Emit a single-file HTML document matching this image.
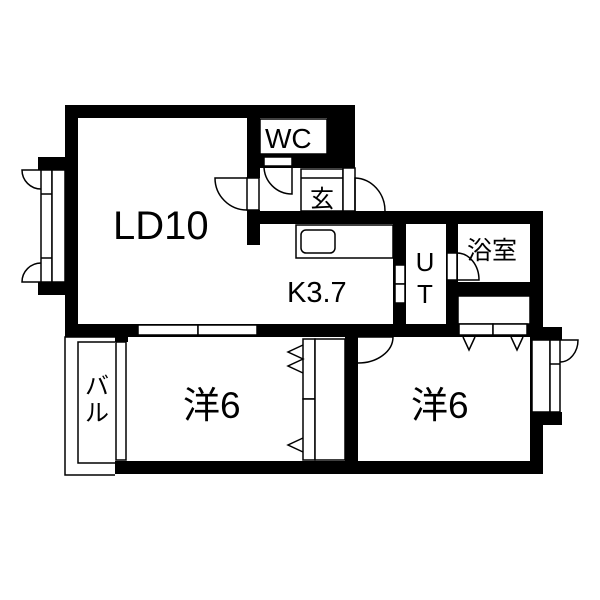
<!DOCTYPE html>
<html><head><meta charset="utf-8"><style>
html,body{margin:0;padding:0;background:#fff;width:600px;height:600px;overflow:hidden}
text{font-family:"Liberation Sans","Noto Sans CJK JP",sans-serif;fill:#000}
</style></head><body>
<svg width="600" height="600" viewBox="0 0 600 600" xmlns="http://www.w3.org/2000/svg">
<g fill="#000" stroke="none">
<rect x="65" y="105" width="290" height="13"/>
<rect x="65" y="105" width="13" height="232"/>
<rect x="38" y="157" width="40" height="13"/>
<rect x="38" y="282" width="40" height="13"/>
<rect x="247" y="105" width="13" height="73"/>
<rect x="247" y="210" width="13" height="35"/>
<rect x="327" y="105" width="28" height="63"/>
<rect x="260" y="154" width="95" height="14"/>
<rect x="247" y="211" width="296" height="13"/>
<rect x="393" y="211" width="13" height="126"/>
<rect x="446" y="211" width="12" height="126"/>
<rect x="446" y="282" width="97" height="14"/>
<rect x="530" y="211" width="13" height="263"/>
<rect x="530" y="327" width="32" height="13"/>
<rect x="530" y="412" width="32" height="13"/>
<rect x="65" y="324" width="478" height="13"/>
<rect x="345" y="324" width="13" height="150"/>
<rect x="115" y="461" width="428" height="13"/>
<rect x="115" y="324" width="13" height="18"/>
</g>
<g fill="#fff" stroke="#000" stroke-width="1.5">
<rect x="41" y="170" width="11" height="112"/>
<rect x="52" y="170" width="13" height="112"/>
<line x1="41" y1="194" x2="52" y2="194"/>
<line x1="41" y1="258" x2="52" y2="258"/>
<rect x="260" y="119" width="67" height="35"/>
<rect x="264" y="157" width="28" height="9"/>
<rect x="301" y="169" width="42" height="42"/>
<line x1="301" y1="178" x2="343" y2="178"/>
<rect x="343" y="168" width="12" height="43"/>
<rect x="247" y="178" width="12" height="32"/>
<rect x="296" y="225" width="97" height="33"/>
<rect x="301" y="230" width="34" height="23" rx="5"/>
<rect x="395" y="265" width="10" height="19"/>
<rect x="395" y="284" width="10" height="19"/>
<rect x="447" y="253" width="10" height="27"/>
<rect x="458" y="296" width="72" height="28"/>
<rect x="459" y="324" width="34" height="11"/>
<rect x="493" y="324" width="34" height="11"/>
<rect x="532" y="340" width="18" height="72"/>
<rect x="550" y="340" width="10" height="72"/>
<line x1="550" y1="364" x2="560" y2="364"/>
<rect x="138" y="325" width="60" height="10"/>
<rect x="198" y="325" width="59" height="10"/>
<rect x="116" y="342" width="10" height="118"/>
<rect x="303" y="339" width="12" height="60"/>
<rect x="303" y="399" width="12" height="61"/>
<rect x="315" y="339" width="30" height="121"/>
</g>
<g fill="none" stroke="#000" stroke-width="1.5">
<path d="M115,337 H65 V475 H115"/>
<path d="M115,342 H78 V463 H115"/>
<path d="M41,170 H22 A19,19 0 0,0 41,189"/>
<path d="M41,282 H22 A19,19 0 0,1 41,263"/>
<path d="M247,178 H215 A32,32 0 0,0 247,210"/>
<path d="M292,166 V194 A28,28 0 0,1 264,166"/>
<path d="M355,211 V178 A31,33 0 0,1 385,211"/>
<path d="M457,253 A22,27 0 0,1 479,280 H457"/>
<path d="M358,337 H393 A35,26 0 0,1 358,363"/>
<path d="M560,340 H578 A18,22 0 0,1 560,362"/>
<path d="M463,337 L469,350 L475,337"/>
<path d="M511,337 L517,350 L523,337"/>
<path d="M303,345 L288,352 L303,359 L288,366 L303,373"/>
<path d="M303,438 L288,445 L303,452"/>
</g>
<text x="113" y="239" font-size="40">LD10</text>
<text x="287" y="302" font-size="29">K3.7</text>
<text x="265" y="148" font-size="28">WC</text>
<text x="310" y="207" font-size="24">玄</text>
<text x="467" y="259" font-size="25">浴室</text>
<text x="425" y="271" font-size="26" text-anchor="middle">U</text>
<text x="425" y="303" font-size="26" text-anchor="middle">T</text>
<text x="183" y="418" font-size="37">洋6</text>
<text x="411" y="418" font-size="37">洋6</text>
<text x="97" y="394" font-size="24" text-anchor="middle">バ</text>
<text x="97" y="421" font-size="24" text-anchor="middle">ル</text>
</svg>
</body></html>
